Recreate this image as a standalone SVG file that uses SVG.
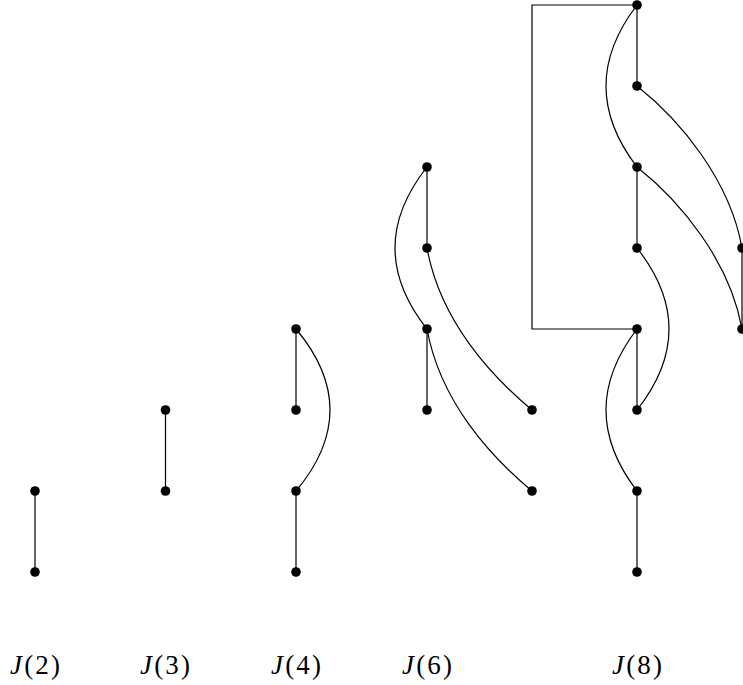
<svg xmlns="http://www.w3.org/2000/svg" width="743" height="685" viewBox="0 0 743 685">
<style>
.n{fill:#000}
.e{fill:none;stroke:#000;stroke-width:1.2}
.l{font-family:"Liberation Serif",serif;font-size:27px;fill:#000}
</style>
<rect width="743" height="685" fill="#fff"/>
<g id="connectors">
<line class="e" x1="35" y1="491" x2="35" y2="572"/>
<line class="e" x1="165.5" y1="410" x2="165.5" y2="491"/>
<line class="e" x1="296" y1="329" x2="296" y2="410"/>
<line class="e" x1="296" y1="491" x2="296" y2="572"/>
<path class="e" d="M296,329 Q364,410 296,491"/>
<line class="e" x1="427" y1="167" x2="427" y2="248"/>
<line class="e" x1="427" y1="329" x2="427" y2="410"/>
<path class="e" d="M427,167 Q363,248 427,329"/>
<path class="e" d="M427,248 C440,320 490,375 532,410"/>
<path class="e" d="M427,329 C440,401 490,456 532,491"/>
<path class="e" d="M637,5 H532 V329 H637"/>
<line class="e" x1="637" y1="5" x2="637" y2="86"/>
<line class="e" x1="637" y1="167" x2="637" y2="248"/>
<line class="e" x1="637" y1="329" x2="637" y2="410"/>
<line class="e" x1="637" y1="491" x2="637" y2="572"/>
<line class="e" x1="742" y1="248" x2="742" y2="329"/>
<path class="e" d="M637,5 Q575,86 637,167"/>
<path class="e" d="M637,248 Q701,329 637,410"/>
<path class="e" d="M637,329 Q575,410 637,491"/>
<path class="e" d="M637,86 C680,120 730,180 742,248"/>
<path class="e" d="M637,167 C680,201 730,261 742,329"/>
</g>
<g id="nodes">
<circle class="n" cx="35" cy="491" r="4.8"/>
<circle class="n" cx="35" cy="572" r="4.8"/>
<circle class="n" cx="165.5" cy="410" r="4.8"/>
<circle class="n" cx="165.5" cy="491" r="4.8"/>
<circle class="n" cx="296" cy="329" r="4.8"/>
<circle class="n" cx="296" cy="410" r="4.8"/>
<circle class="n" cx="296" cy="491" r="4.8"/>
<circle class="n" cx="296" cy="572" r="4.8"/>
<circle class="n" cx="427" cy="167" r="4.8"/>
<circle class="n" cx="427" cy="248" r="4.8"/>
<circle class="n" cx="427" cy="329" r="4.8"/>
<circle class="n" cx="427" cy="410" r="4.8"/>
<circle class="n" cx="532" cy="410" r="4.8"/>
<circle class="n" cx="532" cy="491" r="4.8"/>
<circle class="n" cx="637" cy="5" r="4.8"/>
<circle class="n" cx="637" cy="86" r="4.8"/>
<circle class="n" cx="637" cy="167" r="4.8"/>
<circle class="n" cx="637" cy="248" r="4.8"/>
<circle class="n" cx="637" cy="329" r="4.8"/>
<circle class="n" cx="637" cy="410" r="4.8"/>
<circle class="n" cx="637" cy="491" r="4.8"/>
<circle class="n" cx="637" cy="572" r="4.8"/>
<circle class="n" cx="742" cy="248" r="4.8"/>
<circle class="n" cx="742" cy="329" r="4.8"/>
</g>
<g id="labels">
<text class="l" x="10" y="674" textLength="50" lengthAdjust="spacing"><tspan font-style="italic">J</tspan>(2)</text>
<text class="l" x="140" y="674" textLength="50" lengthAdjust="spacing"><tspan font-style="italic">J</tspan>(3)</text>
<text class="l" x="271" y="674" textLength="50" lengthAdjust="spacing"><tspan font-style="italic">J</tspan>(4)</text>
<text class="l" x="402" y="674" textLength="50" lengthAdjust="spacing"><tspan font-style="italic">J</tspan>(6)</text>
<text class="l" x="612" y="674" textLength="50" lengthAdjust="spacing"><tspan font-style="italic">J</tspan>(8)</text>
</g>
</svg>
